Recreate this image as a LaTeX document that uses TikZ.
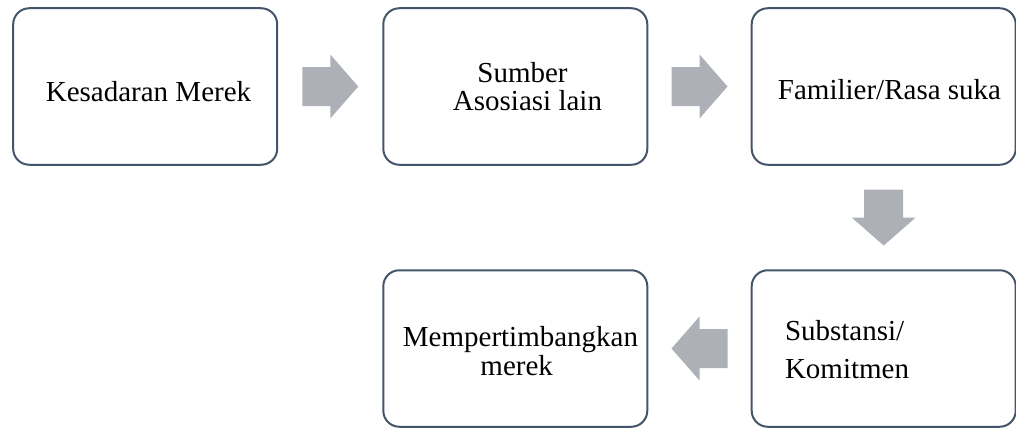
\documentclass[tikz,border=0pt]{standalone}
\usepackage{fontspec}
\setmainfont{Liberation Serif}
\usetikzlibrary{calc}
\definecolor{boxline}{RGB}{68,84,106}
\definecolor{arrowgray}{RGB}{173,176,182}
\tikzset{
  stagebox/.style={draw=boxline, line width=2pt, rounded corners=16pt,
    minimum width=264pt, minimum height=156.5pt, inner sep=0pt, outer sep=0pt, fill=white},
  lbl/.style={font=\fontsize{29}{29}\selectfont, inner sep=0pt, outer sep=0pt, text=black},
  blockarrow/.pic={\fill[arrowgray] (-28,-19.5) -- (0,-19.5) -- (0,-32) -- (28,0)
    -- (0,32) -- (0,19.5) -- (-28,19.5) -- cycle;}
}
\begin{document}
\begin{tikzpicture}[x=1pt,y=-1pt]
\useasboundingbox (0,0) rectangle (1016,428);
% boxes
\node[stagebox] (b1) at (145.2,86.5) {};
\node[stagebox] (b2) at (515.3,86.5) {};
\node[stagebox] (b3) at (883.7,86.5) {};
\node[stagebox] (b4) at (515.3,348.5) {};
\node[stagebox] (b5) at (883.7,348.5) {};
% labels
\node[lbl, anchor=base] (t1) at (148.5,101) {Kesadaran Merek};
\node[lbl, anchor=base] (t2a) at (522.5,82) {Sumber};
\node[lbl, anchor=base] (t2b) at (527.5,110) {Asosiasi lain};
\node[lbl, anchor=base] (t3) at (889.5,99) {Familier/Rasa suka};
\node[lbl, anchor=base] (t4a) at (520.5,346) {Mempertimbangkan};
\node[lbl, anchor=base] (t4b) at (516.7,375) {merek};
\node[lbl, anchor=base west] (t5a) at (785,340) {Substansi/};
\node[lbl, anchor=base west] (t5b) at (785,378) {Komitmen};
% block arrows
\path ($(b1.east)!0.5!(b2.west)$) pic {blockarrow};
\path ($(b2.east)!0.5!(b3.west)$) pic {blockarrow};
\path ($(b3.south)!0.5!(b5.north)$) pic[rotate=-90] {blockarrow};
\path ($(b5.west)!0.5!(b4.east)$) pic[rotate=180] {blockarrow};
\end{tikzpicture}
\end{document}
